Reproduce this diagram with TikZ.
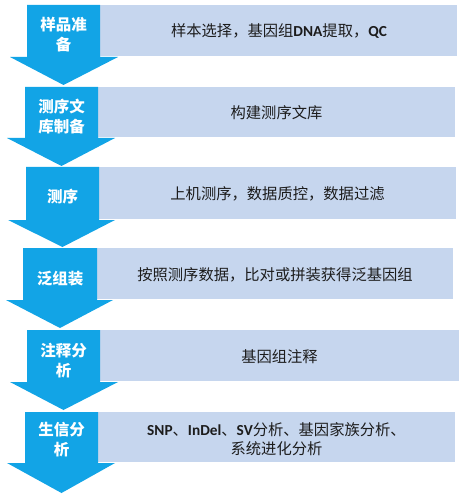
\documentclass[tikz,border=0pt]{standalone}
\usepackage{fontspec}
\setmainfont{Noto Sans CJK SC}
\newfontfamily\lat{Carlito}
\definecolor{arrblue}{RGB}{18,164,230}
\definecolor{boxblue}{RGB}{198,214,238}
\definecolor{txtdark}{RGB}{28,28,28}
\tikzset{
  arr/.style={fill=arrblue},
  abox/.style={fill=boxblue},
  atext/.style={text=white, font=\fontsize{15.5}{20}\selectfont\bfseries, align=center, inner sep=0pt},
  btext/.style={text=txtdark, font=\fontsize{15.3}{19}\selectfont, align=center, inner sep=0pt},
}
\newcommand\latb[1]{{\lat\bfseries #1}}
\begin{document}
\begin{tikzpicture}[x=1pt,y=-1pt]
\useasboundingbox (0,0) rectangle (462,494);
% row 1
\fill[abox] (100,5) rectangle (457,56);
\fill[arr] (27,5) -- (100,5) -- (100,57) -- (118,57) -- (63.5,85) -- (10,57) -- (27,57) -- cycle;
\node[atext] (a1) at (63.5,35) {样品准\\备};
\node[btext] (b1) at (279,31) {样本选择，基因组\latb{DNA}提取，\latb{QC}};
% row 2
\fill[abox] (98,87) rectangle (455,137);
\fill[arr] (25,87) -- (98,87) -- (98,138) -- (115,138) -- (61.5,166) -- (7,138) -- (25,138) -- cycle;
\node[atext] (a2) at (61.5,117) {测序文\\库制备};
\node[btext] (b2) at (276.5,113) {构建测序文库};
% row 3
\fill[abox] (99,167) rectangle (456,219);
\fill[arr] (26,167) -- (99,167) -- (99,220) -- (115,220) -- (62.5,247) -- (8,220) -- (26,220) -- cycle;
\node[atext] (a3) at (62.5,197) {测序};
\node[btext] (b3) at (277.5,194) {上机测序，数据质控，数据过滤};
% row 4
\fill[abox] (97,248) rectangle (453,299);
\fill[arr] (23,248) -- (97,248) -- (97,300) -- (113,300) -- (60,328) -- (6,300) -- (23,300) -- cycle;
\node[atext] (a4) at (60,279) {泛组装};
\node[btext] (b4) at (275,275) {按照测序数据，比对或拼装获得泛基因组};
% row 5
\fill[abox] (100,330) rectangle (459,381);
\fill[arr] (27,330) -- (100,330) -- (100,382) -- (118,382) -- (63.5,410) -- (10,382) -- (27,382) -- cycle;
\node[atext] (a5) at (63.5,361) {注释分\\析};
\node[btext] (b5) at (279.5,357) {基因组注释};
% row 6
\fill[abox] (98,412) rectangle (455,462);
\fill[arr] (25,412) -- (98,412) -- (98,463) -- (115,463) -- (61.5,493) -- (7,463) -- (25,463) -- cycle;
\node[atext] (a6) at (61.5,440) {生信分\\析};
\node[btext] (b6) at (276.5,439) {\latb{SNP}、\latb{InDel}、\latb{SV}分析、基因家族分析、\\系统进化分析};
\end{tikzpicture}
\end{document}
